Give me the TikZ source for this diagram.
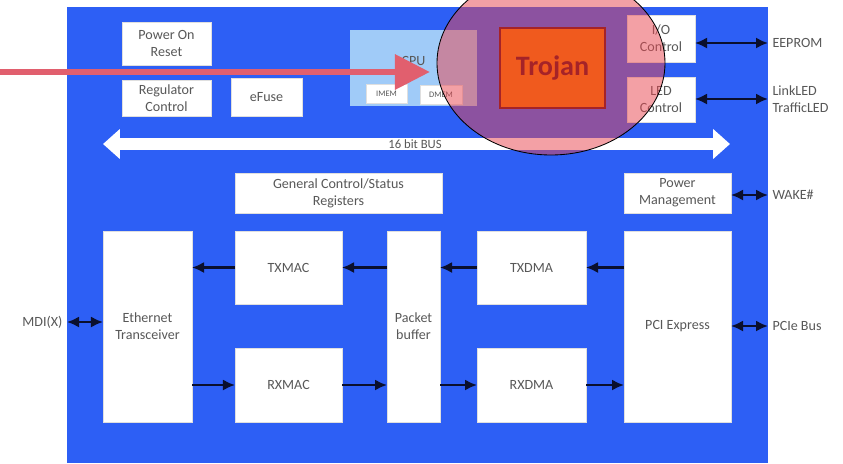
\documentclass[tikz,border=0pt]{standalone}
\usepackage{fontspec}
\setmainfont{Carlito}
\usetikzlibrary{arrows.meta,positioning,shapes.geometric}
\definecolor{boardblue}{RGB}{45,95,245}
\definecolor{cpublue}{RGB}{160,203,248}
\definecolor{txtgray}{RGB}{88,88,88}
\definecolor{trojanorange}{RGB}{240,90,30}
\definecolor{trojanred}{RGB}{165,35,40}
\definecolor{markred}{RGB}{225,95,110}
\definecolor{lensred}{RGB}{233,70,80}
\definecolor{linknavy}{RGB}{10,15,45}
\tikzset{
  >={Latex[length=3mm,width=2.8mm]},
  blk/.style={draw=gray!25,fill=white,align=center,inner sep=0pt,outer sep=0pt,text=txtgray,font=\fontsize{10}{12}\selectfont},
  sz/.style 2 args={minimum width=#1*0.025cm,minimum height=#2*0.025cm},
  mem/.style={blk,font=\fontsize{6}{7}\selectfont},
  lbl/.style={text=txtgray,font=\fontsize{10}{12}\selectfont,align=left,inner sep=3pt},
  arr/.style={->,line width=1.8pt,draw=linknavy},
  darr/.style={<->,line width=1.8pt,draw=linknavy},
  bus/.style={{Triangle[length=0.42cm,width=0.72cm]}-{Triangle[length=0.42cm,width=0.72cm]},line width=0.3cm,white},
  pointer/.style={-{Triangle[length=0.88cm,width=0.85cm]},line width=0.17cm,markred},
  lens/.style={fill=lensred,fill opacity=0.51,draw=black,line width=0.6pt}
}
\begin{document}
\begin{tikzpicture}[x=0.025cm,y=-0.025cm]
\clip (0,0) rectangle (843,463);
\fill[white] (0,0) rectangle (843,463);
\fill[boardblue] (67,7) rectangle (768,463);
% top row
\node[blk,sz={89}{43}] (por) at (166.5,43.5) {Power On\\Reset};
\node[blk,sz={89}{36}] (reg) at (166.5,98) {Regulator\\Control};
\node[blk,sz={71}{38}] (efuse) at (266.5,97) {eFuse};
\node[blk,sz={127}{76},fill=cpublue,draw=none,text depth=10pt] (cpu) at (413.5,68) {CPU};
\node[mem,sz={41}{19}] (imem) at (386.5,93.5) {IMEM};
\node[mem,sz={42}{19}] (dmem) at (441,94.5) {DMEM};
\node[blk,sz={68}{47}] (ioc) at (661,38.5) {I/O\\Control};
\node[blk,sz={68}{45}] (ledc) at (661,99.5) {LED\\Control};
% bus
\coordinate (busL) at (103,144);
\coordinate (busR) at (730,144);
\draw[bus] (busL) -- (busR);
\node[text=txtgray,font=\fontsize{9}{10}\selectfont,inner sep=0pt] (buslbl) at (415,144) {16 bit BUS};
% lower blocks
\node[blk,sz={207}{40}] (gcsr) at (338.5,193) {General Control/Status\\Registers};
\node[blk,sz={107}{40}] (pm) at (677.5,193) {Power\\Management};
\node[blk,sz={89}{191}] (eth) at (147.5,326.5) {Ethernet\\Transceiver};
\node[blk,sz={107}{73}] (txmac) at (288.5,267.5) {TXMAC};
\node[blk,sz={107}{74}] (rxmac) at (288.5,385) {RXMAC};
\node[blk,sz={53}{191}] (pbuf) at (413.5,326.5) {Packet\\buffer};
\node[blk,sz={109}{73}] (txdma) at (531.5,267.5) {TXDMA};
\node[blk,sz={109}{74}] (rxdma) at (531.5,385) {RXDMA};
\node[blk,sz={107}{191}] (pci) at (677.5,326.5) {PCI Express};
% data paths
\draw[arr] (txmac.west) -- (txmac.west -| eth.east);
\draw[arr] (txmac.east -| pbuf.west) -- (txmac.east);
\draw[arr] (txdma.west) -- (txdma.west -| pbuf.east);
\draw[arr] (txdma.east -| pci.west) -- (txdma.east);
\draw[arr] (rxmac.west -| eth.east) -- (rxmac.west);
\draw[arr] (rxmac.east) -- (rxmac.east -| pbuf.west);
\draw[arr] (rxdma.west -| pbuf.east) -- (rxdma.west);
\draw[arr] (rxdma.east) -- (rxdma.east -| pci.west);
% outside pins
\node[lbl,anchor=east] (mdi) at (67,322) {MDI(X)};
\node[lbl,anchor=west] (pcie) at (768,326) {PCIe Bus};
\node[lbl,anchor=west] (wake) at (768,195) {WAKE\#};
\node[lbl,anchor=west] (eeprom) at (768,43) {EEPROM};
\node[lbl,anchor=west] (leds) at (768,99) {LinkLED\\TrafficLED};
\draw[darr] (mdi.east) -- (mdi.east -| eth.west);
\draw[darr] (pcie.west -| pci.east) -- (pcie.west);
\draw[darr] (wake.west -| pm.east) -- (wake.west);
\draw[darr] (eeprom.west -| ioc.east) -- (eeprom.west);
\draw[darr] (leds.west -| ledc.east) -- (leds.west);
% trojan highlight
\draw[lens] (551,63) ellipse [x radius=114, y radius=92];
\node[blk,sz={105}{80},fill=trojanorange,draw=trojanred,line width=1.2pt,text=trojanred,font=\fontsize{20}{24}\selectfont\bfseries] (trojan) at (552.5,68) {Trojan};
\coordinate (markstart) at (0,72);
\coordinate (marktip) at (430,72);
\draw[pointer] (markstart) -- (marktip);
\end{tikzpicture}
\end{document}
